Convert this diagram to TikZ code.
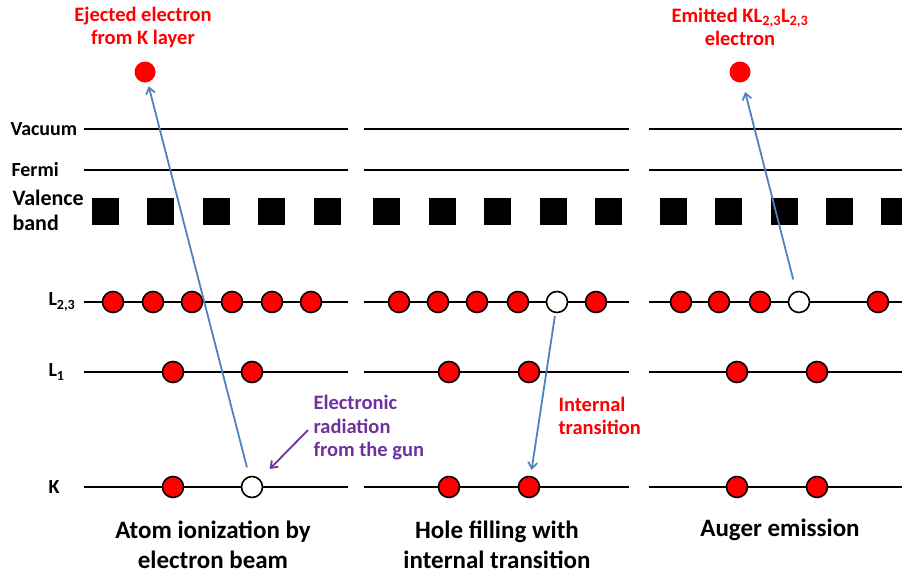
\documentclass[tikz,border=0pt]{standalone}
\usepackage{fontspec}
\setmainfont{Carlito}
\usepackage{xcolor}
\usepackage{tikz}
\usetikzlibrary{positioning, arrows.meta}

\definecolor{elred}{RGB}{255,0,0}
\definecolor{jumpblue}{RGB}{79,129,189}
\definecolor{gunpurple}{RGB}{112,48,160}

\begin{document}
\begin{tikzpicture}[
    x=1pt, y=-1pt,
    % Define styles for levels, electrons and text
    level/.style={line width=2pt},
    electron/.style={circle, draw, line width=1.6pt, fill=elred, minimum size=21pt, inner sep=0pt},
    hole/.style={electron, fill=white},
    freeel/.style={circle, fill=elred, minimum size=21pt, inner sep=0pt},
    bandbox/.style={fill=black, minimum size=27pt, inner sep=0pt},
    levellabel/.style={anchor=west, font=\fontsize{20}{22}\selectfont\bfseries},
    redlabel/.style={align=center, text=elred, font=\fontsize{20.5}{23}\selectfont\bfseries},
    gunlabel/.style={align=left, anchor=west, text=gunpurple, font=\fontsize{20.5}{23.5}\selectfont\bfseries},
    steplabel/.style={align=center, font=\fontsize{25}{30}\selectfont\bfseries},
    jump/.style={-{Straight Barb[length=6pt, width=9pt]}, jumpblue, line width=1.8pt},
    gunarrow/.style={-{Straight Barb[length=6pt, width=9pt]}, gunpurple, line width=1.8pt}
]
    \useasboundingbox (0,0) rectangle (902,576);

    % Energy levels of the three panels
    \foreach \y in {129,170,302,372,487}{
        \draw[level] (84,\y) -- (348,\y);
        \draw[level] (364,\y) -- (629,\y);
        \draw[level] (649,\y) -- (902,\y);
    }

    % Valence band
    \foreach \x in {105,160,216,271,327, 386,442,497,553,608, 673,728,784,839,894}
        \node[bandbox] at (\x,211.5) {};

    % Level names
    \node[levellabel] (vacuum) at (7,129) {Vacuum};
    \node[levellabel] (fermi) at (8,170) {Fermi};
    \node[levellabel, align=left, font=\fontsize{22}{25}\selectfont\bfseries] (valence) at (9,210) {Valence\\band};
    \node[levellabel] (lii) at (45,302) {L\textsubscript{2,3}};
    \node[levellabel] (li) at (45,372) {L\textsubscript{1}};
    \node[levellabel] (k) at (45,487) {K};

    % Panel 1: atom ionization
    \node[electron] (a1) at (113,302) {};
    \node[electron] (a2) at (153,302) {};
    \node[electron] (a3) at (192,302) {};
    \node[electron] (a4) at (232,302) {};
    \node[electron] (a5) at (272,302) {};
    \node[electron] (a6) at (311,302) {};
    \node[electron] (al1) at (173,372) {};
    \node[electron] (al2) at (252,372) {};
    \node[electron] (ak) at (173,487) {};
    \node[hole] (akhole) at (252,487) {};
    \node[freeel] (ejected) at (145,72) {};

    % Panel 2: hole filling
    \node[electron] (b1) at (399,302) {};
    \node[electron] (b2) at (438,302) {};
    \node[electron] (b3) at (477,302) {};
    \node[electron] (b4) at (518,302) {};
    \node[hole] (bhole) at (557,302) {};
    \node[electron] (b6) at (596,302) {};
    \node[electron] (bl1) at (449,372) {};
    \node[electron] (bl2) at (529,372) {};
    \node[electron] (bk1) at (449,487) {};
    \node[electron] (bk2) at (529,487) {};

    % Panel 3: Auger emission
    \node[electron] (c1) at (681,302) {};
    \node[electron] (c2) at (719,302) {};
    \node[electron] (c3) at (760,302) {};
    \node[hole] (chole) at (799,302) {};
    \node[electron] (c5) at (878,302) {};
    \node[electron] (cl1) at (737,372) {};
    \node[electron] (cl2) at (817,372) {};
    \node[electron] (ck1) at (737,487) {};
    \node[electron] (ck2) at (817,487) {};
    \node[freeel] (emitted) at (740,72) {};

    % Texts
    \node[redlabel] (ejtext) at (143,27) {Ejected electron\\from K layer};
    \node[redlabel] (emtext) at (740,27) {Emitted KL\textsubscript{2,3}L\textsubscript{2,3}\\electron};
    \node[gunlabel] (guntext) at (310,428) {Electronic\\radiation\\from the gun};
    \node[redlabel, align=left, anchor=west] (inttext) at (555,416) {Internal\\transition};
    \node[steplabel] (step1) at (213,545) {Atom ionization by\\electron beam};
    \node[steplabel] (step2) at (497,545) {Hole filling with\\internal transition};
    \node[steplabel, anchor=north] (step3) at (780,515) {Auger emission};

    % Transitions
    \draw[jump, shorten <=9pt, shorten >=4pt] (akhole) -- (ejected);
    \draw[jump, shorten <=3pt, shorten >=6pt] (bhole) -- (bk2);
    \draw[jump, shorten <=12pt, shorten >=10pt] (chole) -- (emitted);
    \draw[gunarrow, shorten <=3pt, shorten >=14pt] (guntext.west) -- (akhole);
\end{tikzpicture}
\end{document}
